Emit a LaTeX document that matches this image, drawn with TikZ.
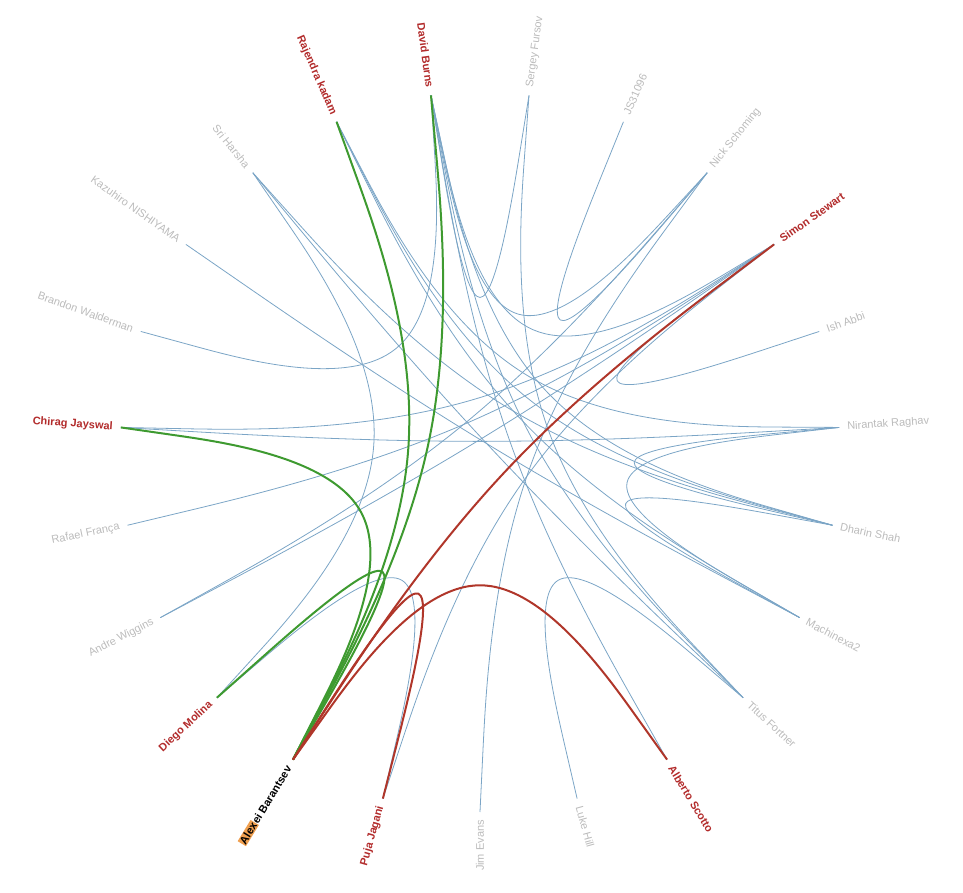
\documentclass[tikz,border=0pt]{standalone}
\usepackage{fontspec}
\setmainfont{Liberation Sans}
\usetikzlibrary{calc}
\definecolor{lblgray}{HTML}{BBBBBB}
\definecolor{hotred}{HTML}{B22B2B}
\definecolor{linkblue}{HTML}{7BA5C6}
\definecolor{linkgreen}{HTML}{3E9A30}
\definecolor{linkred}{HTML}{B0362A}
\definecolor{hlorange}{HTML}{F0A050}
\newcommand{\hl}[1]{{\setlength{\fboxsep}{0.8pt}\colorbox{hlorange}{#1}}}
% bundled link a -> b, drawn as a basis spline through the centre
\newcommand{\bundle}[3][]{\draw[#1] (n#2) -- ($0.845833*(n#2)+0.0125*(n#3)$)
  .. controls ($0.691667*(n#2)+0.025*(n#3)$) and ($0.383333*(n#2)+0.05*(n#3)$)
  .. ($0.216667*(n#2)+0.216667*(n#3)$)
  .. controls ($0.05*(n#2)+0.383333*(n#3)$) and ($0.025*(n#2)+0.691667*(n#3)$)
  .. ($0.0125*(n#2)+0.845833*(n#3)$) -- (n#3);}

\begin{document}
\begin{tikzpicture}[x=1pt,y=1pt]
\tikzstyle{lbl}=[font=\fontsize{11}{13}\selectfont, text=lblgray, inner sep=0pt]
\tikzstyle{hot}=[lbl, font=\fontsize{11}{13}\selectfont\bfseries, text=hotred]
\tikzstyle{me}=[lbl, font=\fontsize{11}{13}\selectfont\bfseries, text=black]
\tikzstyle{bedge}=[linkblue, line width=0.8pt]
\tikzstyle{gedge}=[linkgreen, line width=2pt]
\tikzstyle{redge}=[linkred, line width=2pt]
\useasboundingbox (-480,-440) rectangle (483,452);
% people round the circle
\foreach \nm/\st [count=\i from 0] in {Jim Evans/lbl, Luke Hill/lbl, Alberto Scotto/hot,
  Titus Fortner/lbl, Machinexa2/lbl, Dharin Shah/lbl, Nirantak Raghav/lbl, Ish Abbi/lbl,
  Simon Stewart/hot, Nick Schoming/lbl, JS31096/lbl, Sergey Fursov/lbl, David Burns/hot,
  Rajendra kadam/hot, Sri Harsha/lbl, Kazuhiro NISHIYAMA/lbl, Brandon Walderman/lbl,
  Chirag Jayswal/hot, Rafael França/lbl, Andre Wiggins/lbl, Diego Molina/hot,
  {\hl{Alex}ei Barantsev}/me, Puja Jagani/hot}{
  \pgfmathsetmacro{\ang}{-90+\i*360/23}
  \coordinate (n\i) at (\ang:360);
  \pgfmathtruncatemacro{\rs}{cos(\ang)>0.001}
  \ifnum\rs=1 \def\anc{west}\let\rot\ang
  \else \def\anc{east}\pgfmathsetmacro{\rot}{\ang+180}\fi
  \node[\st, anchor=\anc, rotate=\rot] (t\i) at (\ang:368) {\nm};
}
% other links
\foreach \a/\b in {11/12, 10/9, 7/8, 6/5, 6/4, 5/4, 1/3, 20/22, 12/9, 20/14,
  16/12, 17/8, 17/6, 18/8, 19/8, 19/9, 22/8, 0/9, 15/4, 14/5, 14/3, 13/5,
  13/4, 13/6, 12/3, 11/3, 2/12, 8/12, 12/5}
  \bundle[bedge]{\a}{\b};
% links of Alexei Barantsev
\foreach \b in {13,12,17,20} \bundle[gedge]{21}{\b};
\foreach \b in {8,22,2} \bundle[redge]{21}{\b};
\end{tikzpicture}
\end{document}
